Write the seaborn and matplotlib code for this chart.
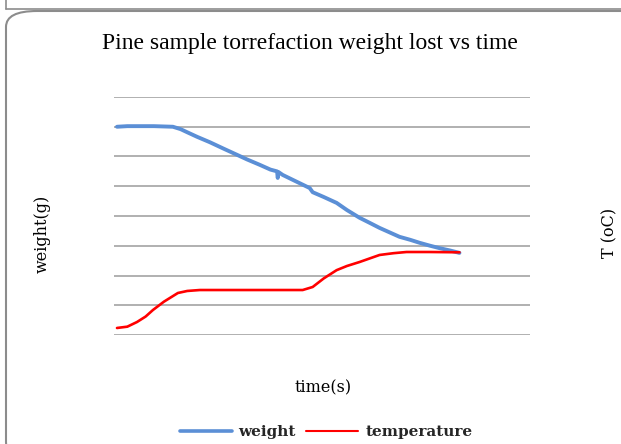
import matplotlib
matplotlib.use("Agg")
import matplotlib.pyplot as plt
from matplotlib.patches import FancyBboxPatch
from matplotlib.lines import Line2D
import seaborn as sns
import pandas as pd

# ---- data ----
weight_time = [9, 40, 78, 120, 177, 200, 219, 250, 288, 330, 369, 400, 438, 470,
               490, 492, 494, 507, 540, 588, 597, 630, 669, 700, 738, 770, 798,
               830, 858, 890, 918, 950, 978, 1010, 1038]
weight_g = [35.0, 35.1, 35.1, 35.1, 35.0, 34.6, 34.1, 33.3, 32.4, 31.3, 30.3, 29.5,
            28.6, 27.8, 27.5, 26.4, 27.4, 26.9, 26.0, 24.7, 24.0, 23.2, 22.2, 21.0,
            19.7, 18.8, 18.0, 17.2, 16.5, 16.0, 15.5, 15.0, 14.6, 14.2, 13.8]
temp_time = [9, 40, 69, 95, 117, 150, 192, 220, 258, 350, 450, 567, 597, 630, 669,
             700, 738, 770, 798, 840, 879, 948, 1038]
temp_c = [11.8, 14.0, 21.8, 31.0, 42.0, 56.0, 70.6, 74.0, 75.6, 75.6, 75.6, 75.6,
          80.7, 95.0, 109.0, 116.0, 122.7, 129.0, 134.5, 137.5, 139.5, 139.5, 139.0]

title = "Pine sample torrefaction weight lost vs time"
xlabel = "time(s)"
ylabel_left = "weight(g)"
ylabel_right = "T (oC)"
series_names = ["weight", "temperature"]

W, H = 621, 444
sns.set_theme(style="white")
plt.rcParams['font.family'] = ['DejaVu Serif', 'Liberation Serif']

fig = plt.figure(figsize=(W / 100, H / 100), dpi=100)

# outer chart frame (rounded, clipped by figure edges)
frame = FancyBboxPatch((6 / W, -14 / H), 650 / W, (444 - 11 + 14) / H,
                       boxstyle="round,pad=0,rounding_size=0.05",
                       transform=fig.transFigure, fill=False,
                       edgecolor="#8c8c8c", linewidth=1.5, mutation_aspect=H / W)
fig.patches.append(frame)
# remnant of the box above
fig.add_artist(Line2D([6 / W, 1.0], [1 - 9 / H, 1 - 9 / H], transform=fig.transFigure,
                      color="#8c8c8c", linewidth=1.2))
fig.add_artist(Line2D([6 / W, 6 / W], [1 - 9 / H, 1.0], transform=fig.transFigure,
                      color="#8c8c8c", linewidth=1.2))

ax = fig.add_axes([114 / W, 1 - 335 / H, (530 - 114) / W, (335 - 97) / H])
ax2 = ax.twinx()

df_w = pd.DataFrame({"time": weight_time, "value": weight_g})
df_t = pd.DataFrame({"time": temp_time, "value": temp_c})

sns.lineplot(data=df_w, x="time", y="value", ax=ax, color="#5b8fd6",
             linewidth=2.8, sort=False)
sns.lineplot(data=df_t, x="time", y="value", ax=ax2, color="#ff0000",
             linewidth=1.9, sort=False)

ax.set_xlim(0, 1250)
ax.set_ylim(0, 40)
ax.set_yticks(range(0, 41, 5))
ax2.set_ylim(0, 400)
ax2.set_yticks([])
ax.grid(axis="y", color="#a3a3a3", linewidth=1.2)
ax.grid(axis="x", visible=False)
ax.set_axisbelow(True)
for a in (ax, ax2):
    for s in a.spines.values():
        s.set_visible(False)
    a.tick_params(left=False, right=False, bottom=False,
                  labelleft=False, labelright=False, labelbottom=False)
    a.set_xlabel("")
    a.set_ylabel("")

fig.text(310 / W, 1 - 44 / H, title, ha="center", va="center", fontsize=17,
         color="#000000", family=["Liberation Serif"])
fig.text(42 / W, 1 - 234 / H, ylabel_left, rotation=90, ha="center", va="center",
         fontsize=11.5, color="#000000")
fig.text(610 / W, 1 - 233 / H, ylabel_right, rotation=90, ha="center", va="center",
         fontsize=11.5, color="#000000")
fig.text(323 / W, 1 - 388 / H, xlabel, ha="center", va="center", fontsize=11.5,
         color="#000000")

handles = [Line2D([], [], color="#5b8fd6", linewidth=2.6),
           Line2D([], [], color="#ff0000", linewidth=1.5)]
fig.legend(handles, series_names, loc="center", bbox_to_anchor=(326 / W, 1 - 432 / H),
           ncol=2, frameon=False, handlelength=3.4, handletextpad=0.45,
           columnspacing=0.7, prop={"family": ["DejaVu Serif"], "weight": "bold",
                                     "size": 11})

fig.savefig("out.png", dpi=100)
